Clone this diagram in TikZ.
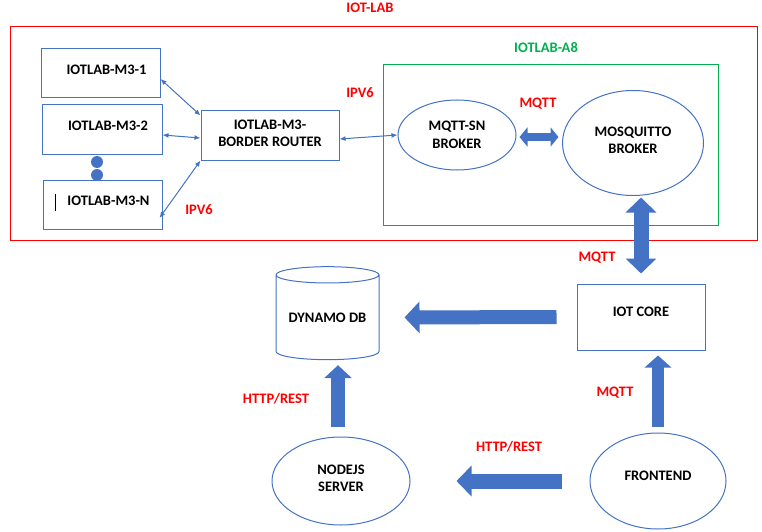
\documentclass[tikz,border=0pt]{standalone}
\usepackage{fontspec}
\setmainfont{Carlito}
\usetikzlibrary{arrows.meta,shapes.geometric}
\definecolor{boxblue}{HTML}{4472C4}
\definecolor{labred}{HTML}{FF0000}
\definecolor{labgreen}{HTML}{00B050}

\begin{document}
\begin{tikzpicture}[x=1pt,y=-1pt,
  font=\fontsize{14.5}{17.5}\selectfont\bfseries,
  box/.style={draw=boxblue,line width=1pt,rectangle,inner sep=0pt,align=center},
  oval/.style={draw=boxblue,line width=1pt,ellipse,inner sep=0pt,align=center},
  redlbl/.style={text=labred,inner sep=0pt},
  link/.style={draw=boxblue,line width=1pt,{Latex[length=6pt,width=5pt]}-{Latex[length=6pt,width=5pt]}},
  dot/.style={circle,fill=boxblue,inner sep=0pt,minimum size=12pt}]
\useasboundingbox (0,0) rectangle (762,532);
\draw[labred,line width=1pt] (10,27) rectangle (757,240);
\node[redlbl] (labtitle) at (370,8) {IOT-LAB};
\draw[labgreen,line width=1pt] (383,65) rectangle (718,225);
\node[text=labgreen,inner sep=0pt] (a8title) at (546,48) {IOTLAB-A8};
\node[box,minimum width=119pt,minimum height=49pt] (m31) at (100.5,73.5) {\hspace*{12pt}IOTLAB-M3-1\raisebox{0pt}[0pt][7pt]{}};
\node[box,minimum width=120pt,minimum height=49pt] (m32) at (102,129.5) {\hspace*{12pt}IOTLAB-M3-2\raisebox{0pt}[0pt][7pt]{}};
\node[dot] (dot1) at (97,162) {};
\node[dot] (dot2) at (97,175) {};
\node[box,minimum width=119pt,minimum height=49pt] (m3n) at (102.5,204.5) {\hspace*{12pt}IOTLAB-M3-N\raisebox{0pt}[0pt][7pt]{}};
\draw[line width=1pt] (55,194) -- (55,211);
\node[box,minimum width=138pt,minimum height=49pt] (br) at (270,135.5) {IOTLAB-M3-\\BORDER ROUTER\raisebox{0pt}[0pt][5pt]{}};
\node[oval,minimum width=118pt,minimum height=70pt] (sn) at (457,135) {MQTT-SN\\BROKER};
\node[oval,minimum width=141pt,minimum height=105pt] (mosq) at (633,143) {MOSQUITTO\\BROKER\raisebox{0pt}[0pt][6pt]{}};
\node[box,minimum width=128pt,minimum height=66pt] (core) at (641,317) {IOT CORE\raisebox{0pt}[0pt][10pt]{}};
\node[cylinder,shape border rotate=90,draw=boxblue,line width=1pt,aspect=0.21,
  minimum width=103pt,minimum height=93pt,inner sep=0pt] (db) at (327.5,317.5) {DYNAMO DB};
\node[oval,minimum width=138pt,minimum height=88pt] (nodejs) at (341,481) {NODEJS\\SERVER\raisebox{0pt}[0pt][6pt]{}};
\node[oval,minimum width=136pt,minimum height=96pt] (front) at (658,481) {FRONTEND\raisebox{0pt}[0pt][10pt]{}};
\node[redlbl] (ipv6a) at (360,93) {IPV6};
\node[redlbl] (ipv6b) at (199,210) {IPV6};
\node[redlbl] (mqtta) at (538,104) {MQTT};
\node[redlbl] (mqttb) at (597,258) {MQTT};
\node[redlbl] (mqttc) at (615,393) {MQTT};
\node[redlbl] (httpa) at (276,399) {HTTP/REST};
\node[redlbl] (httpb) at (509,447) {HTTP/REST};
\draw[link] ([yshift=-5.5pt]m31.east) -- ([yshift=20pt]br.west);
\draw[link] ([yshift=-5.5pt]m32.east) -- ([yshift=-2.5pt]br.west);
\draw[link] ([xshift=-3pt,yshift=-13.5pt]m3n.east) -- (br.south west);
\draw[link] ([yshift=-3.5pt]br.east) -- (sn.west);
\draw[boxblue,line width=8pt,{Triangle[length=8pt,width=19pt]}-{Triangle[length=8pt,width=19pt]},
  shorten <=3pt,shorten >=3.5pt] ([yshift=-2pt]sn.east) -- ([yshift=-2pt]sn.east -| mosq.west);
\draw[boxblue,line width=15pt,{Triangle[length=15pt,width=30pt]}-{Triangle[length=15pt,width=30pt]},
  shorten <=1.5pt,shorten >=10pt] (core.north |- mosq.south) -- (core.north);
\draw[boxblue,line width=14pt,-{Triangle[length=15pt,width=31pt]},
  shorten <=20pt,shorten >=25pt] (core.west) -- (db.east);
\draw[boxblue,line width=14pt,-{Triangle[length=13pt,width=27pt]},
  shorten <=10pt,shorten >=5pt] ([xshift=-3pt]nodejs.north) -- ([xshift=-3pt]nodejs.north |- db.south);
\draw[boxblue,line width=12pt,-{Triangle[length=12pt,width=26pt]},
  shorten <=6pt,shorten >=5pt] (front.north) -- (front.north |- core.south);
\draw[boxblue,line width=15pt,-{Triangle[length=15pt,width=30pt]},
  shorten <=28pt,shorten >=46pt] (front.west) -- (nodejs.east);
\end{tikzpicture}
\end{document}
